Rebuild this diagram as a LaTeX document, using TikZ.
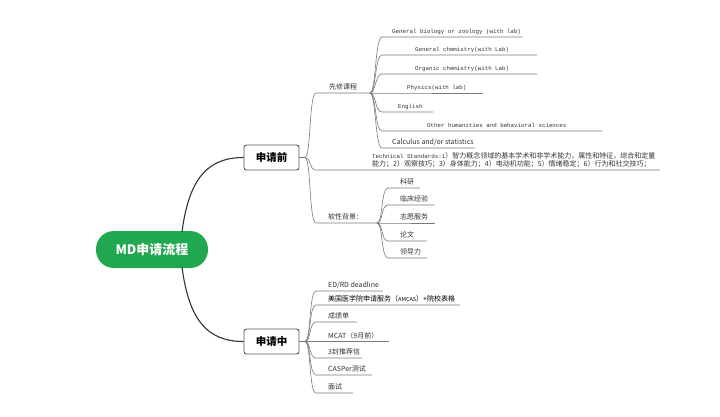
\documentclass[tikz,border=0pt]{standalone}
\usepackage{fontspec}
\setmainfont{Noto Sans CJK SC}
\newfontfamily\monof{Liberation Mono}
\definecolor{rootgreen}{HTML}{1FA84F}
\definecolor{linegray}{HTML}{7A7A7A}
\definecolor{darkline}{HTML}{333333}
\definecolor{boxgray}{HTML}{555555}
\definecolor{txtgray}{HTML}{333333}
\tikzset{
  br/.style={draw=linegray, line width=0.6pt},
  trunk/.style={draw=darkline, line width=1.1pt},
  rootnode/.style={fill=rootgreen, rounded corners=18pt, minimum width=112pt, minimum height=37pt,
    text=white, font=\fontsize{13}{13}\selectfont\bfseries, inner sep=0pt},
  mainbox/.style={draw=boxgray, line width=0.9pt, fill=white, rounded corners=2.5pt,
    minimum width=55pt, minimum height=25pt, font=\fontsize{10.5}{10.5}\selectfont\bfseries, inner sep=0pt},
  cjk/.style={font=\fontsize{7}{8.5}\selectfont, text=txtgray, inner sep=0pt},
  cjkdark/.style={font=\fontsize{7}{8.5}\selectfont, text=black, inner sep=0pt},
  mono/.style={font=\monof\fontsize{5.8}{7}\selectfont, text=txtgray, inner sep=0pt},
}
% name, junction, startx, liney, endx, textx, text, style
\newcommand{\leafbr}[8]{%
  \coordinate (#1s) at (#3,#4);
  \coordinate (#1e) at (#5,#4);
  \node[#8, anchor=base west] (#1) at (#6,#4-3.5) {#7};
  \draw[br] (#2) .. controls +(6,0) and +(-7,0) .. (#1s) -- (#1e);
}
\begin{document}
\begin{tikzpicture}[x=1pt,y=-1pt]
\useasboundingbox[fill=white] (0,0) rectangle (720,416);

% root and main boxes
\node[rootnode] (root) at (152,249.5) {MD申请流程};
\node[mainbox] (pre) at (271.5,157.5) {申请前};
\node[mainbox] (mid) at (271.5,341.5) {申请中};

\coordinate (rt) at (182,232);
\coordinate (rb) at (182,267);
\draw[trunk] (rt) .. controls (189,178) and (208,157.5) .. (pre.west);
\draw[trunk] (rb) .. controls (189,321) and (208,341.5) .. (mid.west);

% junctions
\coordinate (J1) at (305,157.5);
\coordinate (J2) at (305,341.5);
\draw[br] (pre.east) -- (J1);
\draw[br] (mid.east) -- (J2);

% ---------- 申请前 ----------
\leafbr{xx}{J1}{316}{93}{370}{329}{先修课程}{cjk}
\coordinate (J11) at (370,93);
\leafbr{p1}{J11}{382}{37}{523}{392}{General biology or zoology (with lab)}{mono}
\leafbr{p2}{J11}{382}{55}{537}{415}{General chemistry(with Lab)}{mono}
\leafbr{p3}{J11}{382}{74}{537}{415}{Organic chemistry(with Lab)}{mono}
\leafbr{p4}{J11}{382}{93}{483}{407}{Physics(with lab)}{mono}
\leafbr{p5}{J11}{382}{112}{433}{398}{English}{mono}
\leafbr{p6}{J11}{382}{131}{602}{427}{Other humanities and behavioral sciences}{mono}
\leafbr{p7}{J11}{382}{148}{475}{392}{Calculus and/or statistics}{cjk}

% technical standards
\coordinate (tss) at (316,170);
\coordinate (tse) at (660,170);
\draw[br] (J1) .. controls +(6,0) and +(-7,0) .. (tss) -- (tse);
\node[cjk, anchor=south west, align=left] (ts) at (372,168)
  {{\monof\fontsize{5.8}{7}\selectfont Technical Standards:1}）智力概念领域的基本学术和非学术能力，属性和特征，综合和定量\\
   能力；2）观察技巧；3）身体能力；4）电动机功能；5）情绪稳定；6）行为和社交技巧；};

% soft background
\leafbr{sb}{J1}{316}{223}{377}{328}{软性背景：}{cjk}
\coordinate (J12) at (377,223);
\leafbr{s1}{J12}{388}{188}{420}{400}{科研}{cjk}
\leafbr{s2}{J12}{388}{205}{435}{400}{临床经验}{cjk}
\leafbr{s3}{J12}{388}{223}{435}{400}{志愿服务}{cjk}
\leafbr{s4}{J12}{388}{241}{427}{400}{论文}{cjk}
\leafbr{s5}{J12}{388}{258}{427}{400}{领导力}{cjk}

% ---------- 申请中 ----------
\leafbr{m1}{J2}{316}{291}{383}{328}{ED/RD deadline}{cjk}
\leafbr{m2}{J2}{316}{305}{460}{328}{美国医学院申请服务（{\fontsize{5.5}{7}\selectfont AMCAS}）+院校表格}{cjkdark}
\leafbr{m3}{J2}{316}{322}{357}{328}{成绩单}{cjk}
\leafbr{m4}{J2}{316}{341.5}{389}{328}{MCAT（9月前）}{cjk}
\leafbr{m5}{J2}{316}{358}{362}{328}{3封推荐信}{cjk}
\leafbr{m6}{J2}{316}{375}{372}{328}{CASPer测试}{cjk}
\leafbr{m7}{J2}{316}{393}{353}{328}{面试}{cjk}
\end{tikzpicture}
\end{document}
